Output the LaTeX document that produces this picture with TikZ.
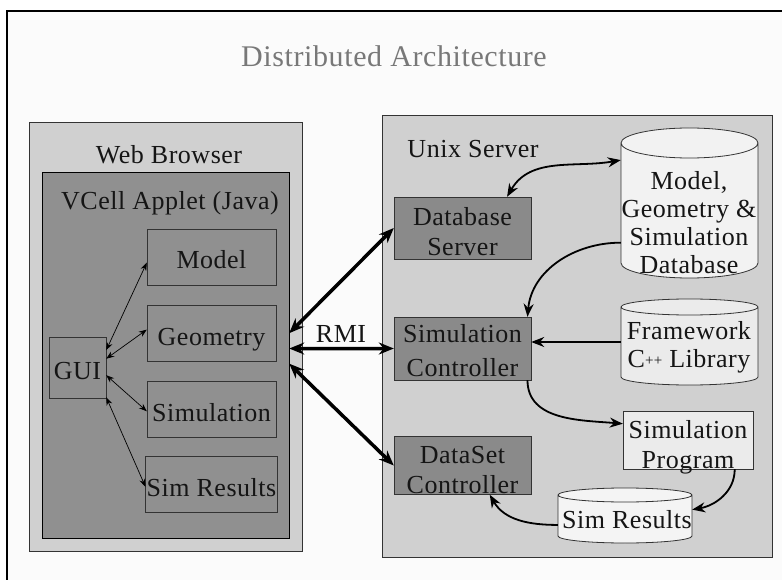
\documentclass[tikz,border=0pt]{standalone}
\usepackage{fontspec}
\setmainfont{Liberation Serif}[LetterSpace=2]
\usetikzlibrary{arrows.meta}
\definecolor{sheet}{HTML}{FBFBFB}
\definecolor{hostfill}{HTML}{D0D0D0}
\definecolor{appfill}{HTML}{909090}
\definecolor{srvfill}{HTML}{8A8A8A}
\definecolor{progfill}{HTML}{EBEBEB}
\definecolor{dbfill}{HTML}{F2F2F2}
\definecolor{fwfill}{HTML}{EBEBEB}
\definecolor{resfill}{HTML}{F4F4F4}
\definecolor{rim}{HTML}{333333}
\definecolor{ink}{HTML}{151515}
\definecolor{headline}{HTML}{787878}

\begin{document}
\begin{tikzpicture}[x=1pt,y=-1pt,
        every node/.style={font=\fontsize{26}{30}\selectfont, text=ink, inner sep=1pt},
        host/.style={draw=rim, fill=hostfill},
        part/.style={draw=rim, fill=appfill, minimum width=129, minimum height=56, text height=24pt, text depth=0pt},
        srv/.style={draw=rim, fill=srvfill, minimum width=137, align=center, text height=56pt, text depth=0pt},
        can/.style={draw=rim, line width=0.8},
        thin/.style={<->, >={Stealth[length=8pt,width=6pt]}, line width=0.7},
        rmi/.style={<->, >={Stealth[length=15pt,width=12pt]}, line width=3.5},
        flow/.style={->, >={Stealth[length=13pt,width=10pt]}, line width=1.8}]
        \useasboundingbox (0,0) rectangle (782,580);
        \clip (0,0) rectangle (782,580);
        \draw[fill=sheet, line width=1.5] (7,11) rectangle (800,600);
        \node[text=headline, font=\fontsize{30}{30}\selectfont, anchor=base] (title) at (394,67) {Distributed Architecture};

        \node[host, minimum width=273, minimum height=429] (browser) at (165.5,336.5) {};
        \node[anchor=base] (browserlbl) at (169,164) {Web Browser};
        \node[draw=black, fill=appfill, minimum width=247, minimum height=366] (applet) at (165.5,355) {};
        \node[anchor=base] (appletlbl) at (170,210) {VCell Applet (Java)};
        \foreach \n/\y/\t in {model/257/Model, geometry/333/Geometry, simulation/409/Simulation, results/484.5/Sim Results}
            \node[part] (\n) at (211.5,\y) {\t};
        \node[part, minimum width=57, minimum height=61] (gui) at (77.5,367.5) {GUI};
        \foreach \a/\n/\b in {31/model/185, 17/geometry/177, -15/simulation/182, -46/results/182}
            \draw[thin] (gui.\a) -- (\n.\b);

        \node[host, minimum width=390, minimum height=442] (unix) at (577,336) {};
        \node[anchor=base] (unixlbl) at (473,158) {Unix Server};
        \node[srv, minimum height=62] (dbserver) at (462.5,228) {Database\\Server};
        \node[srv, minimum height=63, font=\fontsize{26}{34}\selectfont] (simctrl) at (462.5,348.5) {Simulation\\Controller};
        \node[srv, minimum height=55] (dsctrl) at (462.5,465.5) {DataSet\\Controller};
        \node[srv, fill=progfill, minimum width=130, minimum height=56] (simprog) at (688,440) {Simulation\\Program};

        \foreach \xa/\ya/\xb/\yb/\ry/\col in {621/128/758/278/15/dbfill, 621/299/758/385/8/fwfill, 558/488/692/543/7/resfill} {
            \pgfmathsetmacro\rx{(\xb-\xa)/2}
            \path[can, fill=\col] (\xa,\ya+\ry) -- (\xa,\yb-\ry)
                arc[start angle=180, end angle=360, x radius=\rx pt, y radius=\ry pt]
                -- (\xb,\ya+\ry)
                arc[start angle=0, end angle=180, x radius=\rx pt, y radius=\ry pt]
                -- cycle
                (\xa,\ya+\ry) arc[start angle=180, end angle=360, x radius=\rx pt, y radius=\ry pt];
        }
        \node[minimum width=137, minimum height=150] (db) at (689.5,203) {};
        \node[minimum width=137, minimum height=86] (fw) at (689.5,342) {};
        \node[minimum width=134, minimum height=55] (res) at (625,515.5) {};
        \node[align=center, font=\fontsize{26}{28}\selectfont] (dbtext) at (689,223) {Model,\\Geometry \&\\Simulation\\Database};
        \node[align=center, font=\fontsize{26}{28}\selectfont] (fwtext) at (689,347) {Framework\\C\raisebox{2pt}{\fontsize{15}{15}\selectfont ++} Library};
        \node (restext) at (627,520) {Sim Results};

        \draw[rmi] (applet.10) -- (dbserver.west);
        \draw[rmi] (applet.3) -- (simctrl.west);
        \draw[rmi] (applet.-4) -- (dsctrl.west);
        \node[anchor=base] (rmilbl) at (341,342) {RMI};

        \draw[flow, <->] (dbserver.35) to[out=60, in=190] (db.148);
        \draw[flow] (db.210) to[out=180, in=85] (simctrl.26);
        \draw[flow] (fw.west) -- (fw.west -| simctrl.east);
        \draw[flow] (simctrl.-26) to[out=-90, in=175] (simprog.166);
        \draw[flow] (simprog.-32) to[out=-90, in=10] (res.5);
        \draw[flow] (res.188) to[out=180, in=-60] (dsctrl.-47);
\end{tikzpicture}
\end{document}
